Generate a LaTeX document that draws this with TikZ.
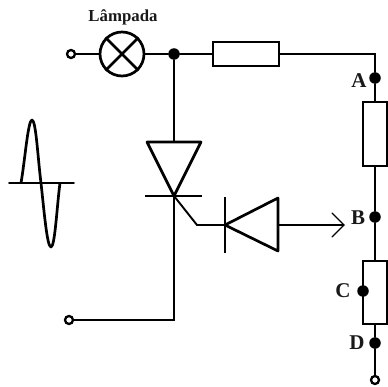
\documentclass[tikz,border=0pt]{standalone}
\usepackage{fontspec}
\setmainfont{Liberation Serif}
\usetikzlibrary{calc}
\tikzset{
  wire/.style={line width=1.9pt,line cap=round},
  thin wire/.style={line width=1.3pt,line cap=round,line join=round},
  thick shape/.style={line width=2.7pt,line join=round},
  dotnode/.style={circle,fill=black,inner sep=0pt,minimum size=11.5pt},
  term/.style={circle,draw,line width=2.3pt,fill=white,inner sep=0pt,minimum size=8pt},
  res/.style={rectangle,draw,line width=2.6pt,fill=white,inner sep=0pt},
  lbl/.style={font=\bfseries\fontsize{21}{21}\selectfont,inner sep=0pt,text=black!90},
}
\begin{document}
\begin{tikzpicture}[x=1pt,y=-1pt]
\useasboundingbox (0,0) rectangle (387,387);
% coordinates
\coordinate (J) at (174,54);
\coordinate (corner) at (375,54);
\coordinate (thyA) at (174,142);
\coordinate (thyK) at (174,196);
\coordinate (thyL) at (147,142);
\coordinate (thyR) at (201,142);
\coordinate (barL) at (145,196);
\coordinate (barR) at (202,196);
\coordinate (bend) at (197,225);
\coordinate (diodeK) at (225,225);
\coordinate (diodeT) at (225,197);
\coordinate (diodeB) at (225,253);
\coordinate (baseT) at (278,198);
\coordinate (baseB) at (278,251);
\coordinate (baseM) at (278,225);
\coordinate (tip) at (344,225);
\coordinate (tipU) at (332,213);
\coordinate (tipD) at (332,237);
\coordinate (gateEnd) at (174,320);
% wires
\node[term] (t1) at (71,54) {};
\node[term] (t2) at (69,320) {};
\node[term] (t3) at (375,380) {};
\node[circle,draw,line width=2.7pt,minimum size=44pt,inner sep=0pt] (lamp) at (122,54) {};
\node[res,minimum width=66pt,minimum height=24pt] (r1) at (246,54) {};
\node[res,minimum width=24pt,minimum height=64pt] (r2) at (375,134) {};
\node[res,minimum width=24pt,minimum height=63pt] (r3) at (375,292.5) {};
\node[dotnode] (jn) at (J) {};
\node[dotnode] (dA) at (375,78) {};
\node[dotnode] (dB) at (375,217) {};
\node[dotnode] (dC) at (363,291) {};
\node[dotnode] (dD) at (375,343) {};
\draw[wire] (t1) -- (lamp);
\draw[wire] (lamp) -- (jn);
\draw[wire] (jn) -- (r1);
\draw[wire] (r1) -- (corner) -- (dA);
\draw[wire] (dA) -- (r2);
\draw[wire] (r2) -- (dB);
\draw[wire] (dB) -- (r3);
\draw[wire] (r3) -- (dD);
\draw[wire] (dD) -- (t3);
\draw[wire] (jn) -- (thyA);
\draw[wire] (thyK) -- (gateEnd) -- (t2);
\draw[thin wire] (baseM) -- (tip);
\draw[thin wire] (tipU) -- (tip) -- (tipD);
\draw[wire] (thyK) -- (bend) -- (diodeK);
% lamp cross
\draw[thick shape] (lamp.45) -- (lamp.225) (lamp.135) -- (lamp.315);
% thyristor
\draw[thick shape] (thyL) -- (thyR) -- (thyK) -- cycle;
\draw[thick shape] (barL) -- (barR);
% diode
\draw[thick shape] (diodeT) -- (diodeB);
\draw[thick shape] (diodeK) -- (baseT) -- (baseB) -- cycle;
% sine
\coordinate (sL) at (9,183);
\coordinate (sR) at (74,183);
\draw[wire] (sL) -- (sR);
\draw[line width=2.7pt,line join=round] (21,183) .. controls (25,160) and (28,120) .. (32,120)
  .. controls (36,120) and (38,160) .. (41,183)
  .. controls (44,210) and (47,247) .. (51,247)
  .. controls (55,247) and (57,205) .. (60,183);
% labels
\node[font=\bfseries\fontsize{16.8}{17}\selectfont,inner sep=0pt,text=black!90] (lampL) at (123,17) {Lâmpada};
\node[lbl] (lA) at (359,80.5) {A};
\node[lbl] (lB) at (358,218) {B};
\node[lbl] (lC) at (343,291) {C};
\node[lbl] (lD) at (357,343) {D};
\end{tikzpicture}
\end{document}
